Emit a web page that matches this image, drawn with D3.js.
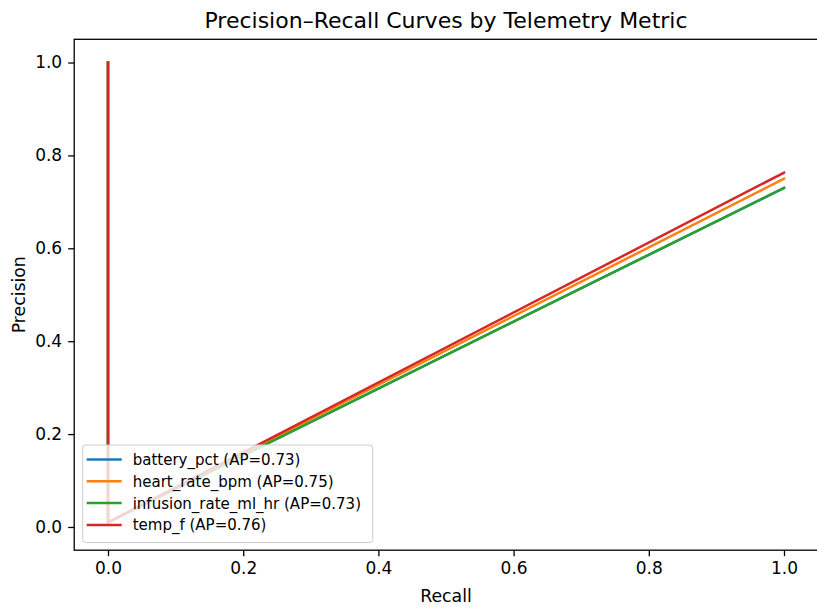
<!DOCTYPE html>
<html>
<head>
<meta charset="utf-8">
<script src="https://cdn.jsdelivr.net/npm/d3@7"></script>
<style>
  body { margin: 0; background: #fff; }
  svg { display: block; font-family: "DejaVu Sans", sans-serif; }
  .tick text { font-size: 17px; fill: #000; }
  .tick line, .domain { stroke: #000; }
</style>
</head>
<body>
<svg width="817" height="608"></svg>
<script>
const seriesNames = ['battery_pct', 'heart_rate_bpm', 'infusion_rate_ml_hr', 'temp_f'];
const apValues = [0.73, 0.75, 0.73, 0.76];
const colors = ['#1f77b4', '#ff7f0e', '#2ca02c', '#d62728'];
// points of each curve (recall, precision)
const recallPts = [0, 0, 1];
const precisionPts = [
  [1.0, 0.01, 0.73],
  [1.0, 0.01, 0.75],
  [1.0, 0.01, 0.73],
  [1.0, 0.01, 0.763]
];
const tickVals = [0, 0.2, 0.4, 0.6, 0.8, 1.0];

const svg = d3.select('svg');
const margin = { left: 74.2, top: 39.3, right: -0.8, bottom: 57.8 };
const width = +svg.attr('width');
const height = +svg.attr('height');

const xScale = d3.scaleLinear().domain([-0.05, 1.05]).range([margin.left, width - margin.right]);
const yScale = d3.scaleLinear().domain([-0.05, 1.05]).range([height - margin.bottom, margin.top]);

// frame
svg.append('rect')
  .attr('x', xScale(-0.05)).attr('y', yScale(1.05))
  .attr('width', xScale(1.05) - xScale(-0.05))
  .attr('height', yScale(-0.05) - yScale(1.05))
  .attr('fill', 'none').attr('stroke', '#000').attr('stroke-width', 1.3);

const xAxis = d3.axisBottom(xScale).tickValues(tickVals).tickFormat(d3.format('.1f'))
  .tickSize(6).tickPadding(6);
const yAxis = d3.axisLeft(yScale).tickValues(tickVals).tickFormat(d3.format('.1f'))
  .tickSize(6).tickPadding(6);

const xG = svg.append('g').attr('transform', `translate(0, ${yScale(-0.05)})`).call(xAxis);
const yG = svg.append('g').attr('transform', `translate(${xScale(-0.05)}, 0)`).call(yAxis);
xG.select('.domain').remove();
yG.select('.domain').remove();
svg.selectAll('.tick line').attr('stroke-width', 1.3);
xG.selectAll('.tick text').attr('font-family', '"DejaVu Sans", sans-serif');
yG.selectAll('.tick text').attr('font-family', '"DejaVu Sans", sans-serif');

// curves
const line = d3.line().x((d, i) => xScale(recallPts[i])).y(d => yScale(d));
svg.append('g').selectAll('path').data(precisionPts).enter().append('path')
  .attr('d', line)
  .attr('fill', 'none')
  .attr('stroke', (d, i) => colors[i])
  .attr('stroke-width', 2.5)
  .attr('stroke-linejoin', 'round')
  .attr('stroke-linecap', 'square');

// title & labels
svg.append('text')
  .attr('x', (xScale(-0.05) + xScale(1.05)) / 2).attr('y', 28)
  .attr('text-anchor', 'middle').attr('font-size', 22)
  .text('Precision–Recall Curves by Telemetry Metric');
svg.append('text')
  .attr('x', (xScale(-0.05) + xScale(1.05)) / 2).attr('y', 602)
  .attr('text-anchor', 'middle').attr('font-size', 17.3)
  .text('Recall');
svg.append('text')
  .attr('transform', `translate(25, ${(yScale(-0.05) + yScale(1.05)) / 2}) rotate(-90)`)
  .attr('text-anchor', 'middle').attr('font-size', 17.3)
  .text('Precision');

// legend
const legend = svg.append('g').attr('transform', 'translate(82.7, 445)');
legend.append('rect')
  .attr('width', 290).attr('height', 97.5).attr('rx', 3)
  .attr('fill', '#fff').attr('fill-opacity', 0.8)
  .attr('stroke', '#ccc').attr('stroke-width', 1);
const rows = legend.selectAll('g.row').data(seriesNames).enter().append('g')
  .attr('class', 'row')
  .attr('transform', (d, i) => `translate(0, ${14.5 + i * 21.8})`);
rows.append('line')
  .attr('x1', 4).attr('x2', 39)
  .attr('stroke', (d, i) => colors[i]).attr('stroke-width', 2.5);
rows.append('text')
  .attr('x', 50).attr('dy', '0.36em').attr('font-size', 15)
  .text((d, i) => `${d} (AP=${apValues[i].toFixed(2)})`);
</script>
</body>
</html>
